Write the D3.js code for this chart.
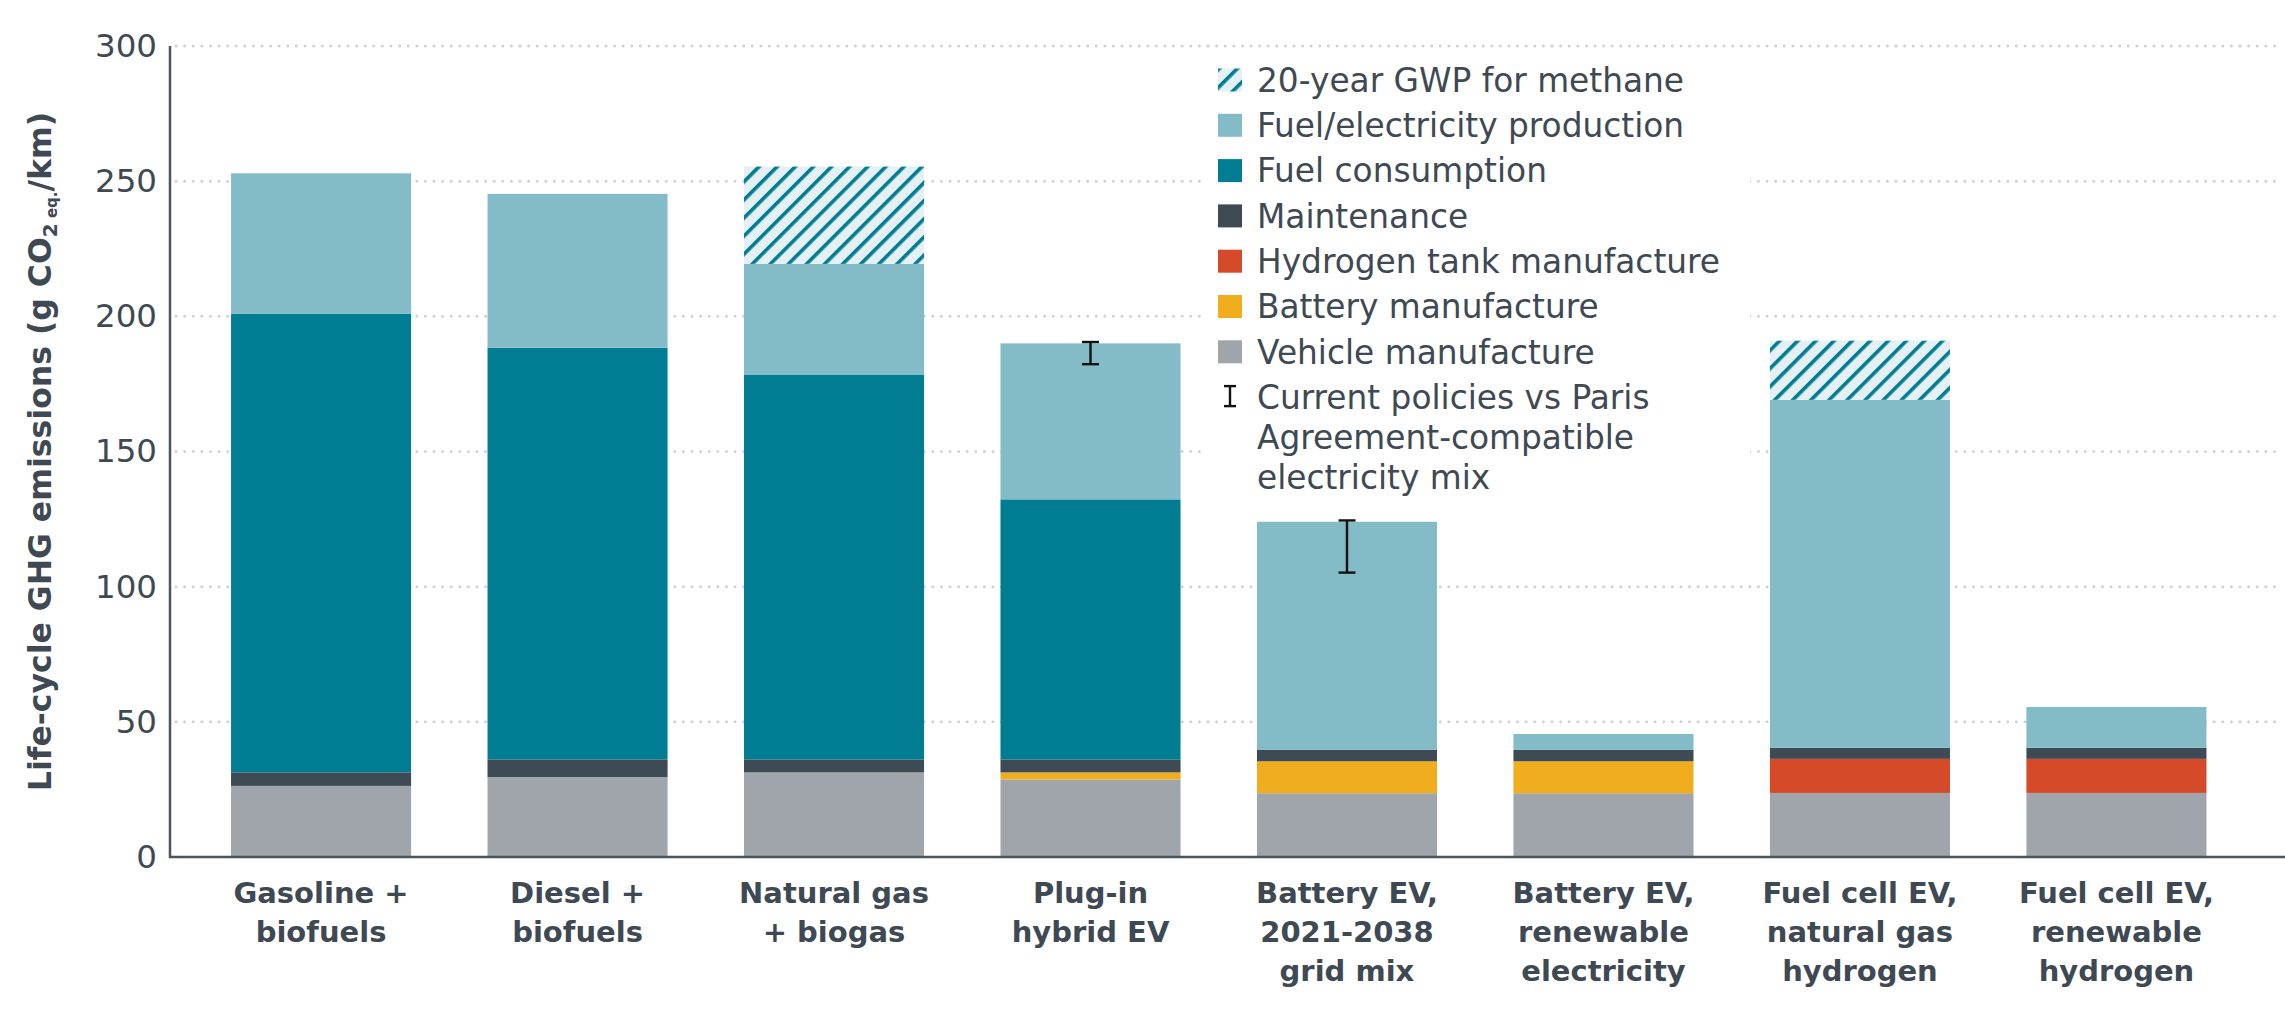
<!DOCTYPE html>
<html>
<head>
<meta charset="utf-8">
<script src="https://cdn.jsdelivr.net/npm/d3@7"></script>
<style>
  html, body { margin: 0; padding: 0; background: #fff; }
  svg { display: block; }
</style>
</head>
<body>
<svg id="chart" width="2285" height="1018"></svg>
<script>
// ---------- DATA ----------
const categories = [
  ["Gasoline +", "biofuels"],
  ["Diesel +", "biofuels"],
  ["Natural gas", "+ biogas"],
  ["Plug-in", "hybrid EV"],
  ["Battery EV,", "2021-2038", "grid mix"],
  ["Battery EV,", "renewable", "electricity"],
  ["Fuel cell EV,", "natural gas", "hydrogen"],
  ["Fuel cell EV,", "renewable", "hydrogen"]
];
const vehicleManufacture = [26.3, 29.6, 31.3, 28.7, 23.6, 23.6, 23.7, 23.7];
const batteryManufacture = [0, 0, 0, 2.6, 11.8, 11.8, 0, 0];
const hydrogenTankManufacture = [0, 0, 0, 0, 0, 0, 12.6, 12.6];
const maintenance = [5.0, 6.5, 4.8, 4.8, 4.2, 4.2, 4.1, 4.1];
const fuelConsumption = [169.6, 152.3, 142.2, 96.2, 0, 0, 0, 0];
const fuelProduction = [52.0, 56.9, 41.1, 57.7, 84.4, 5.9, 128.7, 15.1];
const gwp20Methane = [0, 0, 36.0, 0, 0, 0, 21.9, 0];
const errorLow = [null, null, null, 182.3, 105.2, null, null, null];
const errorHigh = [null, null, null, 190.5, 124.5, null, null, null];
const yTicks = [0, 50, 100, 150, 200, 250, 300];

const seriesKeys = ["vehicle", "battery", "h2tank", "maintenance", "fuelCons", "fuelProd", "gwp"];
const seriesLabels = {
  gwp: "20-year GWP for methane",
  fuelProd: "Fuel/electricity production",
  fuelCons: "Fuel consumption",
  maintenance: "Maintenance",
  h2tank: "Hydrogen tank manufacture",
  battery: "Battery manufacture",
  vehicle: "Vehicle manufacture"
};
const legendOrder = ["gwp", "fuelProd", "fuelCons", "maintenance", "h2tank", "battery", "vehicle"];
const errorLegendLines = ["Current policies vs Paris", "Agreement-compatible", "electricity mix"];

// ---------- STYLE ----------
const colors = {
  vehicle: "#a0a4ab",
  battery: "#f0ae1f",
  h2tank: "#d54a28",
  maintenance: "#3e4a54",
  fuelCons: "#007d93",
  fuelProd: "#83bcc7",
  gwp: "url(#hatch)"
};
const textColor = "#3e4953";
const font = "'DejaVu Sans', sans-serif";

const table = categories.map((c, i) => ({
  cat: i,
  vehicle: vehicleManufacture[i],
  battery: batteryManufacture[i],
  h2tank: hydrogenTankManufacture[i],
  maintenance: maintenance[i],
  fuelCons: fuelConsumption[i],
  fuelProd: fuelProduction[i],
  gwp: gwp20Methane[i],
  lo: errorLow[i],
  hi: errorHigh[i]
}));

const svg = d3.select("#chart");

// hatch pattern
const defs = svg.append("defs");
const pat = defs.append("pattern")
  .attr("id", "hatch")
  .attr("patternUnits", "userSpaceOnUse")
  .attr("width", 12.8).attr("height", 12.8)
  .attr("patternTransform", "rotate(45)");
pat.append("rect").attr("width", 12.8).attr("height", 12.8).attr("fill", "#e4f0f4");
pat.append("rect").attr("x", 0).attr("y", 0).attr("width", 3.6).attr("height", 12.8).attr("fill", "#007d93");

const x = d3.scaleBand()
  .domain(d3.range(categories.length))
  .range([170, 2267.5])
  .paddingInner(0.298)
  .paddingOuter(0.238);
const y = d3.scaleLinear().domain([0, 300]).range([857, 46]);

// gridlines
svg.append("g").selectAll("line")
  .data(yTicks.filter(t => t > 0))
  .join("line")
  .attr("x1", 176).attr("x2", 2282)
  .attr("y1", d => y(d)).attr("y2", d => y(d))
  .attr("stroke", "#d2d2d2")
  .attr("stroke-width", 3)
  .attr("stroke-linecap", "round")
  .attr("stroke-dasharray", "0 8.6");

// legend background (hides gridlines)
const legendG = svg.append("g");
legendG.append("rect")
  .attr("x", 1205).attr("y", 56).attr("width", 545).attr("height", 442)
  .attr("fill", "#fff");

// stacked bars
const stack = d3.stack().keys(seriesKeys);
const stacked = stack(table);
svg.append("g").selectAll("g")
  .data(stacked)
  .join("g")
  .attr("fill", d => colors[d.key])
  .selectAll("rect")
  .data(d => d.filter(s => s[1] - s[0] > 0))
  .join("rect")
  .attr("x", d => x(d.data.cat))
  .attr("width", x.bandwidth())
  .attr("y", d => y(d[1]))
  .attr("height", d => y(d[0]) - y(d[1]));

// error bars
const eb = svg.append("g").selectAll("g")
  .data(table.filter(d => d.lo != null))
  .join("g")
  .attr("stroke", "#111")
  .attr("stroke-width", 2.4);
eb.append("line")
  .attr("x1", d => x(d.cat) + x.bandwidth() / 2)
  .attr("x2", d => x(d.cat) + x.bandwidth() / 2)
  .attr("y1", d => y(d.lo)).attr("y2", d => y(d.hi));
eb.append("line")
  .attr("x1", d => x(d.cat) + x.bandwidth() / 2 - 8.5)
  .attr("x2", d => x(d.cat) + x.bandwidth() / 2 + 8.5)
  .attr("y1", d => y(d.lo)).attr("y2", d => y(d.lo));
eb.append("line")
  .attr("x1", d => x(d.cat) + x.bandwidth() / 2 - 8.5)
  .attr("x2", d => x(d.cat) + x.bandwidth() / 2 + 8.5)
  .attr("y1", d => y(d.hi)).attr("y2", d => y(d.hi));

// axes lines
svg.append("line")
  .attr("x1", 170).attr("x2", 170).attr("y1", y(300)).attr("y2", y(0) + 1)
  .attr("stroke", "#4a5560").attr("stroke-width", 2.5);
svg.append("line")
  .attr("x1", 169).attr("x2", 2285).attr("y1", y(0)).attr("y2", y(0))
  .attr("stroke", "#4a5560").attr("stroke-width", 2.5);

// y tick labels
const yAxis = d3.axisLeft(y).tickValues(yTicks).tickSize(0).tickPadding(13);
const yg = svg.append("g").attr("transform", "translate(170,0)").call(yAxis);
yg.select(".domain").remove();
yg.selectAll("text")
  .attr("font-family", font)
  .attr("font-size", 32.5)
  .attr("fill", textColor);

// y title
const yt = svg.append("text")
  .attr("transform", `translate(51,${(y(0) + y(300)) / 2}) rotate(-90)`)
  .attr("text-anchor", "middle")
  .attr("font-family", font)
  .attr("font-weight", "bold")
  .attr("font-size", 31.5)
  .attr("fill", textColor);
yt.append("tspan").text("Life-cycle GHG emissions (g CO");
yt.append("tspan").attr("font-size", 20).attr("dy", 6).text("2");
yt.append("tspan").attr("font-size", 15).attr("dy", 0).text(" eq.");
yt.append("tspan").attr("dy", -6).text("/km)");

// x labels
const xl = svg.append("g").selectAll("text")
  .data(categories)
  .join("text")
  .attr("x", (d, i) => x(i) + x.bandwidth() / 2)
  .attr("y", 903)
  .attr("text-anchor", "middle")
  .attr("font-family", font)
  .attr("font-weight", "bold")
  .attr("font-size", 29)
  .attr("fill", textColor);
xl.selectAll("tspan")
  .data(d => d)
  .join("tspan")
  .attr("x", function () { return this.parentNode.getAttribute("x"); })
  .attr("dy", (d, i) => i === 0 ? 0 : 39)
  .text(d => d);

// legend
const rowY = i => 80 + i * 45.3;
legendOrder.forEach((k, i) => {
  legendG.append("rect")
    .attr("x", 1218).attr("y", rowY(i) - 11.5)
    .attr("width", 24).attr("height", 23)
    .attr("fill", colors[k]);
  legendG.append("text")
    .attr("x", 1257).attr("y", rowY(i))
    .attr("dy", "0.36em")
    .attr("font-family", font)
    .attr("font-size", 32.8)
    .attr("fill", textColor)
    .text(seriesLabels[k]);
});
const ei = legendOrder.length;
const ey = rowY(ei) - 1;
const eg = legendG.append("g").attr("stroke", "#111").attr("stroke-width", 2.4);
eg.append("line").attr("x1", 1230).attr("x2", 1230).attr("y1", ey - 10).attr("y2", ey + 10);
eg.append("line").attr("x1", 1224).attr("x2", 1236).attr("y1", ey - 10).attr("y2", ey - 10);
eg.append("line").attr("x1", 1224).attr("x2", 1236).attr("y1", ey + 10).attr("y2", ey + 10);
errorLegendLines.forEach((t, j) => {
  legendG.append("text")
    .attr("x", 1257).attr("y", rowY(ei) + j * 40)
    .attr("dy", "0.36em")
    .attr("font-family", font)
    .attr("font-size", 32.8)
    .attr("fill", textColor)
    .text(t);
});
</script>
</body>
</html>
